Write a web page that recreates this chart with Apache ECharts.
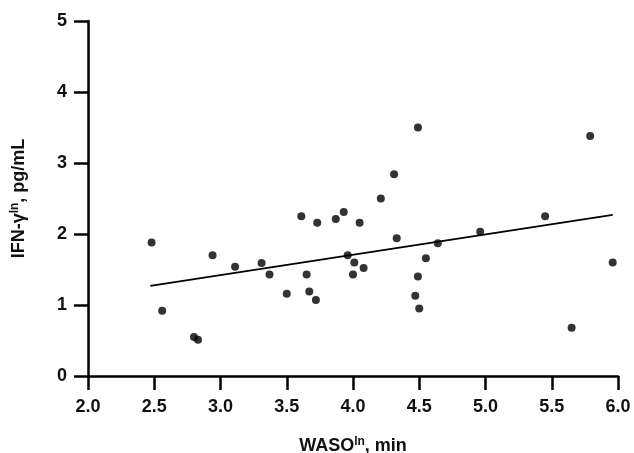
<!DOCTYPE html>
<html>
<head>
<meta charset="utf-8">
<script src="https://cdn.jsdelivr.net/npm/echarts@6/dist/echarts.min.js"></script>
<style>html,body{margin:0;padding:0;background:#fff}#c{width:634px;height:453px}</style>
</head>
<body>
<div id="c"></div>
<script>
var wasoLn = [2.48,2.56,2.80,2.83,2.94,3.11,3.31,3.37,3.50,3.61,3.65,3.67,3.72,3.73,3.87,3.93,3.96,4.01,4.00,
  4.05,4.08,4.21,4.31,4.33,4.49,4.55,4.49,4.47,4.50,4.64,4.96,5.45,5.79,5.65,5.96];
var ifnLn = [1.88,0.92,0.55,0.51,1.70,1.54,1.59,1.43,1.16,2.25,1.43,1.19,1.07,2.16,2.21,2.31,1.70,1.60,1.43,
  2.16,1.52,2.50,2.84,1.94,3.50,1.66,1.40,1.13,0.95,1.87,2.03,2.25,3.38,0.68,1.60];
var fitX = [2.47, 5.96];
var fitY = [1.27, 2.27];
var xTicks = {min: 2, max: 6, step: 0.5};
var yTicks = {min: 0, max: 5, step: 1};

var pts = wasoLn.map(function(x, i){ return [x, ifnLn[i]]; });
var fit = fitX.map(function(x, i){ return [x, fitY[i]]; });

var font = 'Liberation Sans, Arial, sans-serif';
var rich = {
  b: {fontFamily: font, fontWeight: 'bold', fontSize: 18, color: '#111'},
  s: {fontFamily: font, fontWeight: 'bold', fontSize: 12, color: '#111', padding: [0,0,9,0]}
};
var chart = echarts.init(document.getElementById('c'));
chart.setOption({
  animation: false,
  grid: {left: 88, right: 16, top: 21, bottom: 77, outerBoundsMode: 'none', containLabel: false},
  xAxis: {
    type: 'value', min: xTicks.min, max: xTicks.max, interval: xTicks.step,
    splitLine: {show: false},
    axisLine: {lineStyle: {color: '#000', width: 2.5}},
    axisTick: {length: 14, lineStyle: {color: '#000', width: 2.5}},
    axisLabel: {color: '#111', fontFamily: font, fontWeight: 'bold', fontSize: 18, margin: 22,
      formatter: function(v){ return v.toFixed(1); }},
    name: '{b|WASO}{s|ln}{b|, min}', nameLocation: 'middle', nameGap: 60,
    nameTextStyle: {rich: rich}
  },
  yAxis: {
    type: 'value', min: yTicks.min, max: yTicks.max, interval: yTicks.step,
    splitLine: {show: false},
    axisLine: {lineStyle: {color: '#000', width: 2.5}},
    axisTick: {length: 14, lineStyle: {color: '#000', width: 2.5}},
    axisLabel: {color: '#111', fontFamily: font, fontWeight: 'bold', fontSize: 18, margin: 21},
    name: '{b|IFN-γ}{s|ln}{b|, pg/mL}', nameLocation: 'middle', nameGap: 58, nameRotate: 90,
    nameTextStyle: {rich: rich}
  },
  series: [
    {type: 'scatter', data: pts, symbolSize: 8, itemStyle: {color: '#000'}, z: 3},
    {type: 'line', data: fit, showSymbol: false, lineStyle: {color: '#000', width: 1.8}, z: 2}
  ]
});
</script>
</body>
</html>
